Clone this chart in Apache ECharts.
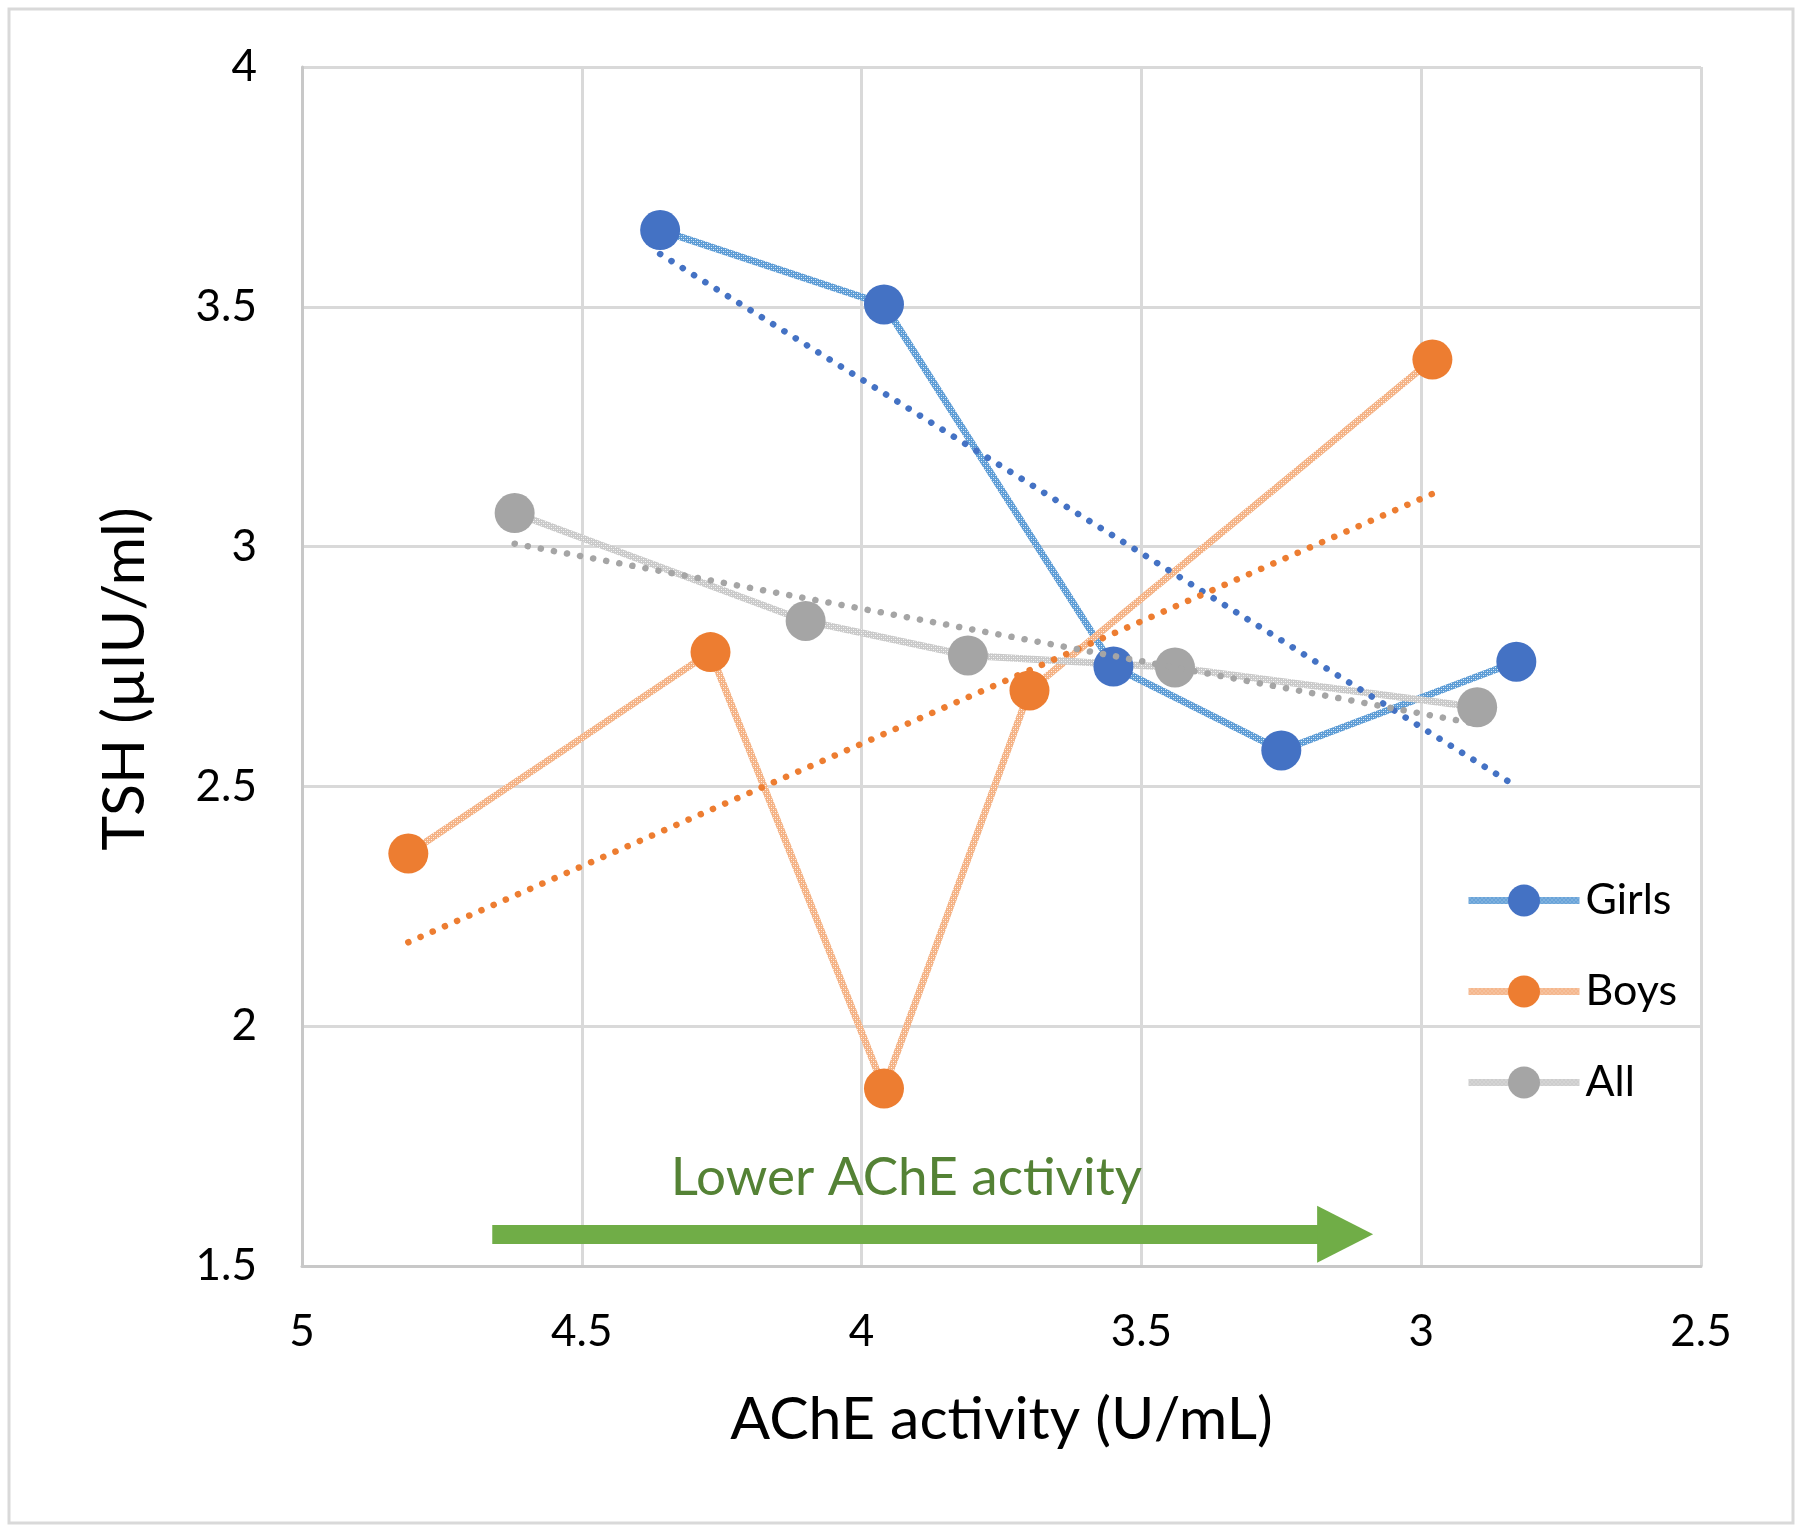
<!DOCTYPE html>
<html>
<head>
<meta charset="utf-8">
<script src="https://cdn.jsdelivr.net/npm/echarts@6/dist/echarts.min.js"></script>
<style>
  html, body { margin: 0; padding: 0; background: #ffffff; }
  #chart { width: 1800px; height: 1531px; }
</style>
</head>
<body>
<div id="chart"></div>
<script>
// ---- Data ----
var seriesNames = ['Girls', 'Boys', 'All'];

var girlsX = [4.36, 3.96, 3.55, 3.25, 2.83];
var girlsY = [3.66, 3.505, 2.75, 2.575, 2.76];

var boysX = [4.81, 4.27, 3.96, 3.70, 2.98];
var boysY = [2.36, 2.78, 1.87, 2.70, 3.39];

var allX = [4.62, 4.10, 3.81, 3.44, 2.90];
var allY = [3.07, 2.845, 2.773, 2.748, 2.665];

// Trendline end points (linear trendlines)
var girlsTrendX = [4.36, 2.83];
var girlsTrendY = [3.61, 2.50];
var boysTrendX = [4.81, 2.98];
var boysTrendY = [2.175, 3.11];
var allTrendX = [4.62, 2.90];
var allTrendY = [3.006, 2.63];

// Axis ticks
var xTicks = [2.5, 3, 3.5, 4, 4.5, 5];
var yTicks = [1.5, 2, 2.5, 3, 3.5, 4];

// Annotation
var annotationText = 'Lower AChE activity';
var arrowFromX = 4.66, arrowToX = 3.136, arrowY = 1.566;
var annotationX = 3.92, annotationY = 1.683;

function pairs(xs, ys) { return xs.map(function (x, i) { return [x, ys[i]]; }); }

function hatch(base) {
  var c = document.createElement('canvas');
  c.width = 4; c.height = 4;
  var g = c.getContext('2d');
  g.fillStyle = base; g.fillRect(0, 0, 4, 4);
  g.fillStyle = 'rgba(255,255,255,0.85)';
  g.fillRect(1, 1, 1, 1);
  g.fillRect(3, 3, 1, 1);
  g.fillStyle = 'rgba(255,255,255,0.35)';
  g.fillRect(3, 1, 1, 1);
  g.fillRect(1, 3, 1, 1);
  return { image: c, repeat: 'repeat' };
}

var FONT = 'Lato';
var chart = echarts.init(document.getElementById('chart'), null, { renderer: 'canvas' });

var markerColors = ['#4472C4', '#ED7D31', '#A5A5A5'];
var lineColors = ['#5B9BD5', '#F4B183', '#C9C9C9'];

function dataSeries(name, data, idx) {
  return {
    name: name, type: 'line', data: data, z: 3,
    symbol: 'circle', symbolSize: 40, showSymbol: true,
    lineStyle: { width: 7, color: hatch(lineColors[idx]) },
    itemStyle: { color: markerColors[idx] },
    emphasis: { disabled: true },
    animation: false
  };
}
function trendSeries(name, data, idx) {
  return {
    name: name + ' trend', type: 'line', data: data, z: 4,
    symbol: 'none', showSymbol: false,
    lineStyle: { width: 6.5, color: markerColors[idx], type: [0.1, 13.2], cap: 'round' },
    emphasis: { disabled: true },
    animation: false
  };
}

var option = {
  backgroundColor: '#ffffff',
  animation: false,
  graphic: [{
    type: 'rect', shape: { x: 9, y: 9, width: 1784, height: 1514 },
    style: { fill: 'none', stroke: '#D9D9D9', lineWidth: 3 }, z: -1
  }],
  grid: { left: 302, right: 99, top: 67, bottom: 265, containLabel: false },
  legend: {
    data: seriesNames,
    orient: 'vertical',
    left: 1460, top: 874,
    itemWidth: 111, itemHeight: 40, itemGap: 48,
    lineStyle: { width: 7 },
    textStyle: { fontFamily: FONT, fontSize: 43, color: '#000', padding: [0, 0, 0, 1] }
  },
  xAxis: {
    type: 'value', min: 2.5, max: 5, interval: 0.5, inverse: true,
    name: 'AChE activity (U/mL)', nameLocation: 'middle', nameGap: 124,
    nameTextStyle: { fontFamily: FONT, fontSize: 59, color: '#000' },
    axisLine: { show: true, lineStyle: { color: '#C8C8C8', width: 3 } },
    axisTick: { show: false },
    axisLabel: { fontFamily: FONT, fontSize: 44, color: '#000', margin: 44,
      formatter: function (v) { return xTicks.indexOf(v) >= 0 ? String(v) : ''; } },
    splitLine: { show: true, lineStyle: { color: '#D9D9D9', width: 3 } }
  },
  yAxis: {
    type: 'value', min: 1.5, max: 4, interval: 0.5,
    name: 'TSH (µIU/ml)', nameLocation: 'middle', nameGap: 148,
    nameTextStyle: { fontFamily: FONT, fontSize: 59, color: '#000', padding: [0, 25, 0, 0] },
    axisLine: { show: true, lineStyle: { color: '#C8C8C8', width: 3 } },
    axisTick: { show: false },
    axisLabel: { fontFamily: FONT, fontSize: 44, color: '#000', margin: 45,
      formatter: function (v) { return yTicks.indexOf(v) >= 0 ? String(v) : ''; } },
    splitLine: { show: true, lineStyle: { color: '#D9D9D9', width: 3 } }
  },
  series: [
    dataSeries('Girls', pairs(girlsX, girlsY), 0),
    dataSeries('Boys', pairs(boysX, boysY), 1),
    dataSeries('All', pairs(allX, allY), 2),
    trendSeries('Girls', pairs(girlsTrendX, girlsTrendY), 0),
    trendSeries('Boys', pairs(boysTrendX, boysTrendY), 1),
    trendSeries('All', pairs(allTrendX, allTrendY), 2),
    {
      name: 'annotation', type: 'line', data: [], z: 5, animation: false,
      markLine: {
        silent: true, animation: false,
        symbol: ['none', 'triangle'], symbolSize: [57, 56],
        lineStyle: { color: '#70AD47', width: 19, type: 'solid', opacity: 1 },
        itemStyle: { color: '#70AD47' },
        label: { show: false },
        emphasis: { disabled: true },
        data: [[{ coord: [arrowFromX, arrowY] }, { coord: [arrowToX, arrowY] }]]
      },
      markPoint: {
        silent: true, animation: false,
        symbol: 'circle', symbolSize: 0,
        label: { show: true, position: 'inside', formatter: annotationText,
          fontFamily: FONT, fontSize: 53, color: '#548235' },
        data: [{ coord: [annotationX, annotationY] }]
      }
    }
  ]
};
chart.setOption(option);
</script>
</body>
</html>
